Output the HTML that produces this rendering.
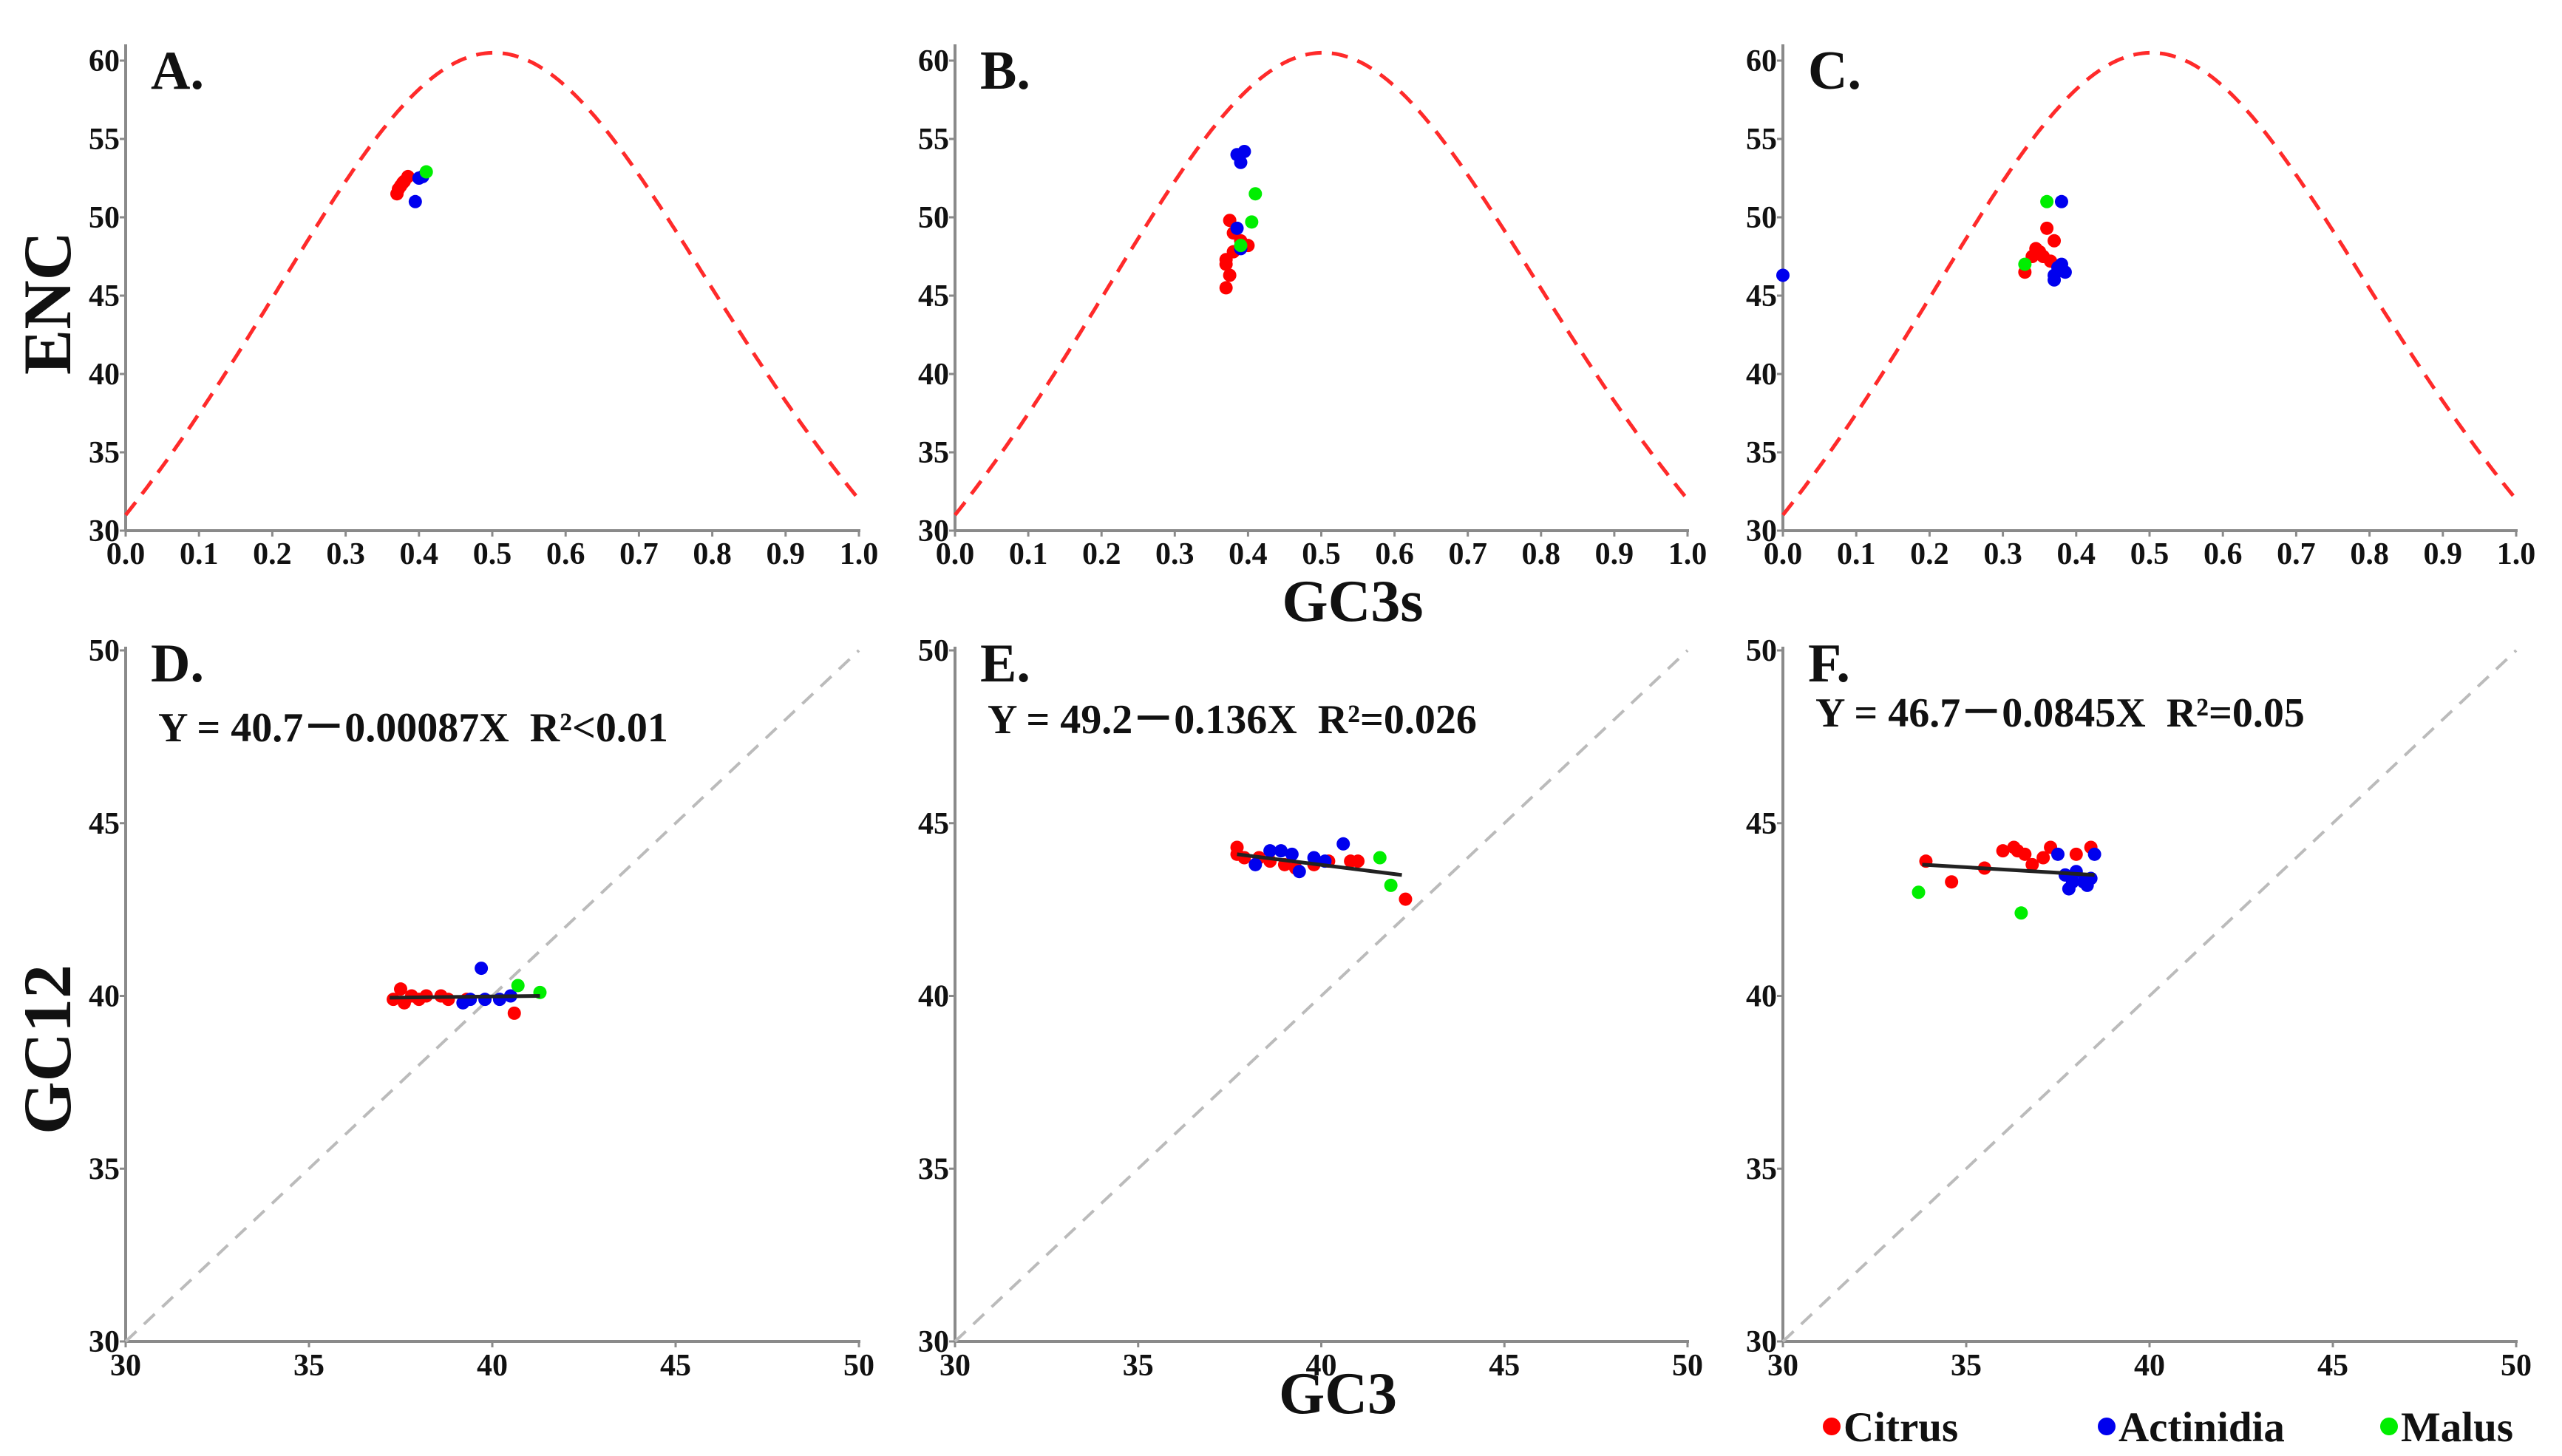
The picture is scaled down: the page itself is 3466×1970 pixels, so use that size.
<!DOCTYPE html>
<html><head><meta charset="utf-8">
<style>
html,body{margin:0;padding:0;background:#fff;}
svg{display:block;}
text{font-family:"Liberation Serif",serif;font-weight:bold;fill:#111;}
</style></head>
<body>
<svg id="fig" width="3466" height="1970" viewBox="0 0 3466 1970" xmlns="http://www.w3.org/2000/svg">
<text x="95" y="410" font-size="92" text-anchor="middle" transform="rotate(-90 95 410)">ENC</text>
<text x="1830" y="840" font-size="80" text-anchor="middle">GC3s</text>
<text x="95" y="1420" font-size="92" text-anchor="middle" transform="rotate(-90 95 1420)">GC12</text>
<text x="1810" y="1912" font-size="80" text-anchor="middle">GC3</text>
<g>
<circle cx="2478" cy="1930" r="12" fill="#ff0000"/>
<text x="2494" y="1950" font-size="57">Citrus</text>
<circle cx="2850" cy="1930" r="12" fill="#0000ee"/>
<text x="2866" y="1950" font-size="57">Actinidia</text>
<circle cx="3232" cy="1930" r="12" fill="#00ee00"/>
<text x="3248" y="1950" font-size="57">Malus</text>
</g>
</svg>
<script>
// ---- data ----
const encTicksX = [0,0.1,0.2,0.3,0.4,0.5,0.6,0.7,0.8,0.9,1.0];
const encTicksY = [30,35,40,45,50,55,60];
const gcTicks = [30,35,40,45,50];

const aCitrusX = [0.37,0.375,0.38,0.385,0.372,0.378];
const aCitrusY = [51.5,52.0,52.3,52.6,51.8,52.2];
const aActX = [0.40,0.395,0.405];
const aActY = [52.5,51.0,52.6];
const aMalX = [0.41];
const aMalY = [52.9];

const bCitrusX = [0.37,0.375,0.37,0.38,0.375,0.38,0.39,0.40,0.37];
const bCitrusY = [45.5,46.3,47.3,47.8,49.8,49.0,48.5,48.2,47.0];
const bActX = [0.385,0.39,0.395,0.39,0.385];
const bActY = [54.0,53.5,54.2,48.0,49.3];
const bMalX = [0.41,0.405,0.39];
const bMalY = [51.5,49.7,48.2];

const cCitrusX = [0.33,0.34,0.345,0.35,0.36,0.355,0.365,0.37];
const cCitrusY = [46.5,47.5,48.0,47.8,49.3,47.5,47.2,48.5];
const cActX = [0.38,0.37,0.375,0.38,0.385,0.37,0.0];
const cActY = [51.0,46.3,46.8,47.0,46.5,46.0,46.3];
const cMalX = [0.36,0.33];
const cMalY = [51.0,47.0];

const dCitrusX = [37.3,37.5,37.6,37.8,38.0,38.2,38.6,38.8,40.6,39.3];
const dCitrusY = [39.9,40.2,39.8,40.0,39.9,40.0,40.0,39.9,39.5,39.9];
const dActX = [39.2,39.4,39.7,39.8,40.2,40.5];
const dActY = [39.8,39.9,40.8,39.9,39.9,40.0];
const dMalX = [40.7,41.3];
const dMalY = [40.3,40.1];
const dLineX = [37.2,41.3];
const dLineY = [39.95,40.0];

const eCitrusX = [37.7,37.9,38.3,38.6,39.0,39.3,39.8,40.2,40.8,41.0,42.3,37.7];
const eCitrusY = [44.3,44.0,44.0,43.9,43.8,43.7,43.8,43.9,43.9,43.9,42.8,44.1];
const eActX = [38.2,38.6,38.9,39.4,39.8,40.1,40.6,39.2];
const eActY = [43.8,44.2,44.2,43.6,44.0,43.9,44.4,44.1];
const eMalX = [41.6,41.9];
const eMalY = [44.0,43.2];
const eLineX = [37.7,42.2];
const eLineY = [44.1,43.5];

const fCitrusX = [33.9,34.6,35.5,36.0,36.3,36.6,36.4,37.1,37.3,36.8,38.4,38.0];
const fCitrusY = [43.9,43.3,43.7,44.2,44.3,44.1,44.2,44.0,44.3,43.8,44.3,44.1];
const fActX = [37.7,37.9,38.0,38.2,38.4,38.5,37.8,38.3,37.5];
const fActY = [43.5,43.3,43.6,43.3,43.4,44.1,43.1,43.2,44.1];
const fMalX = [33.7,36.5];
const fMalY = [43.0,42.4];
const fLineX = [33.8,38.5];
const fLineY = [43.8,43.5];

// ---- drawing ----
const svg = document.getElementById('fig');
const NS = 'http://www.w3.org/2000/svg';
function mk(tag, attrs, parent){
  const e = document.createElementNS(NS, tag);
  for (const k in attrs) e.setAttribute(k, attrs[k]);
  (parent||svg).appendChild(e);
  return e;
}
const RED='#ff0000', BLUE='#0000ee', GREEN='#00ee00';

function panel(opt){
  const g = mk('g', {});
  
  
  const sx = v => opt.x0 + (v - opt.xmin) / (opt.xmax - opt.xmin) * (opt.x1 - opt.x0);
  const sy = v => opt.y0 - (v - opt.ymin) / (opt.ymax - opt.ymin) * (opt.y0 - opt.y1);
  const ya = mk('line', {x1:opt.x0, y1:opt.y0, x2:opt.x0, y2:opt.ytop, stroke:'#8a8a8a','stroke-width':4}, g);
  
  
  const xa = mk('line', {x1:opt.x0, y1:opt.y0, x2:opt.x1+2, y2:opt.y0, stroke:'#8a8a8a','stroke-width':4}, g);
  
  
  opt.xticks.forEach(t => {
    mk('line', {x1:sx(t), y1:opt.y0, x2:sx(t), y2:opt.y0+8, stroke:'#8a8a8a','stroke-width':3}, g);
    const tl = mk('text', {x:sx(t), y:opt.y0+opt.xlabOff, 'font-size':opt.fs, 'text-anchor':'middle'}, g);
    
    
    tl.textContent = opt.xfmt(t);
  });
  opt.yticks.forEach(t => {
    mk('line', {x1:opt.x0-8, y1:sy(t), x2:opt.x0, y2:sy(t), stroke:'#8a8a8a','stroke-width':3}, g);
    const tl = mk('text', {x:opt.x0-8, y:sy(t)+14, 'font-size':opt.fs, 'text-anchor':'end'}, g);
    
    
    tl.textContent = String(t);
  });
  const lt = mk('text', {x:opt.x0+34, y:opt.letterY, 'font-size':74}, g);
  
  
  lt.textContent = opt.letter;
  if (opt.curve){
    let d='';
    for (let i=0;i<=200;i++){
      const s=i/200, v=2+s+29/(s*s+(1-s)*(1-s));
      d += (i?'L':'M') + sx(s).toFixed(1)+','+sy(v).toFixed(1);
    }
    const c = mk('path', {d:d, fill:'none', stroke:'#ff2a2a','stroke-width':5,'stroke-dasharray':'22,14'}, g);
    
    
  }
  if (opt.diag){
    const dl = mk('line', {x1:sx(30), y1:sy(30), x2:sx(50), y2:sy(50), stroke:'#bbbbbb','stroke-width':4,'stroke-dasharray':'20,14'}, g);
    
    
  }
  if (opt.eq){
    const et = mk('text', {x:opt.x0+44, y:opt.eqY, 'font-size':56, style:'white-space:pre'}, g);
    
    
    et.textContent = opt.eq;
  }
  const series = [[opt.cx,opt.cy,RED,'citrus-point'],[opt.ax,opt.ay,BLUE,'actinidia-point'],[opt.mx,opt.my,GREEN,'malus-point']];
  series.forEach(s => {
    for (let i=0;i<s[0].length;i++){
      const p = mk('circle', {cx:sx(s[0][i]), cy:sy(s[1][i]), r:9, fill:s[2]}, g);
      
      
    }
  });
  if (opt.lx){
    const rl = mk('line', {x1:sx(opt.lx[0]), y1:sy(opt.ly[0]), x2:sx(opt.lx[1]), y2:sy(opt.ly[1]), stroke:'#222','stroke-width':5}, g);
    
    
  }
}
const f1 = t => t.toFixed(1);
const f0 = t => String(t);
const topCfg = {xmin:0,xmax:1,ymin:30,ymax:60,y0:718,y1:82,ytop:60,xticks:encTicksX,yticks:encTicksY,xfmt:f1,fs:42,xlabOff:45,letterY:120,curve:true};
panel(Object.assign({},topCfg,{name:'panel-a',letter:'A.',x0:170,x1:1162,cx:aCitrusX,cy:aCitrusY,ax:aActX,ay:aActY,mx:aMalX,my:aMalY}));
panel(Object.assign({},topCfg,{name:'panel-b',letter:'B.',x0:1292,x1:2283,cx:bCitrusX,cy:bCitrusY,ax:bActX,ay:bActY,mx:bMalX,my:bMalY}));
panel(Object.assign({},topCfg,{name:'panel-c',letter:'C.',x0:2412,x1:3404,cx:cCitrusX,cy:cCitrusY,ax:cActX,ay:cActY,mx:cMalX,my:cMalY}));
const botCfg = {xmin:30,xmax:50,ymin:30,ymax:50,y0:1815,y1:880,ytop:875,xticks:gcTicks,yticks:gcTicks,xfmt:f0,fs:42,xlabOff:46,letterY:922,diag:true};
panel(Object.assign({},botCfg,{name:'panel-d',letter:'D.',x0:170,x1:1162,eqY:1003,eq:'Y = 40.7－0.00087X  R²<0.01',cx:dCitrusX,cy:dCitrusY,ax:dActX,ay:dActY,mx:dMalX,my:dMalY,lx:dLineX,ly:dLineY}));
panel(Object.assign({},botCfg,{name:'panel-e',letter:'E.',x0:1292,x1:2283,eqY:992,eq:'Y = 49.2－0.136X  R²=0.026',cx:eCitrusX,cy:eCitrusY,ax:eActX,ay:eActY,mx:eMalX,my:eMalY,lx:eLineX,ly:eLineY}));
panel(Object.assign({},botCfg,{name:'panel-f',letter:'F.',x0:2412,x1:3404,eqY:983,eq:'Y = 46.7－0.0845X  R²=0.05',cx:fCitrusX,cy:fCitrusY,ax:fActX,ay:fActY,mx:fMalX,my:fMalY,lx:fLineX,ly:fLineY}));
</script>
</body></html>
